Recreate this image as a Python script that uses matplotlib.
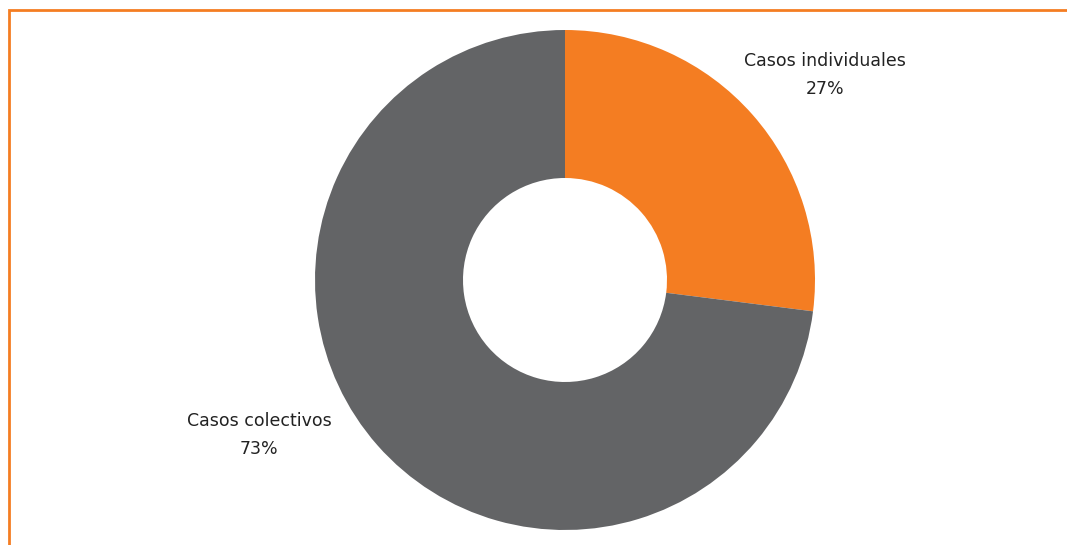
import matplotlib.pyplot as plt
from matplotlib.patches import Rectangle

categorias = ['Casos individuales', 'Casos colectivos']
valores = [27, 73]
colores = ['#F47D22', '#636466']

fig = plt.figure(figsize=(10.67, 5.45), dpi=100)
ax = fig.add_axes([0, 0, 1, 1])

ax.pie(valores, colors=colores, startangle=90, counterclock=False,
       center=(565, 265), radius=250,
       wedgeprops=dict(width=250 - 102, linewidth=0))

ax.set_xlim(0, 1067)
ax.set_ylim(0, 545)
ax.set_aspect('equal')
ax.axis('off')

# etiquetas
pos = [(825, 470), (259, 110)]
for cat, v, (x, y) in zip(categorias, valores, pos):
    ax.text(x, y, f'{cat}\n{v}%', ha='center', va='center', fontsize=12.5,
            color='#222222', linespacing=1.75)

# marco naranja (solo arriba e izquierda visibles)
fig.patches.append(Rectangle((9 / 1067, -0.1), 1.2, (545 - 10) / 545 + 0.1,
                             transform=fig.transFigure, fill=False,
                             edgecolor='#F47D22', linewidth=2.0))

fig.savefig('out.png', dpi=100)
